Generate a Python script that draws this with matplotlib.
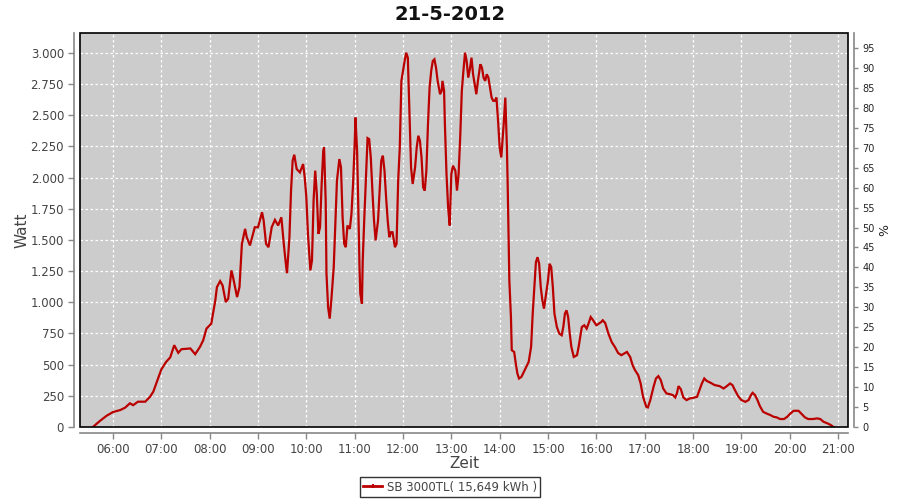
import matplotlib
matplotlib.use("Agg")
import matplotlib.pyplot as plt
from matplotlib.ticker import FixedLocator, FuncFormatter
from matplotlib.patches import Rectangle
from matplotlib.lines import Line2D

title = "21-5-2012"
series_label = "SB 3000TL( 15,649 kWh )"

times = [
    "05:35", "05:44", "05:52", "06:00", "06:09", "06:15", "06:21", "06:25", "06:31", "06:40",
    "06:46", "06:50", "06:56", "07:00", "07:06", "07:11", "07:16", "07:21", "07:25", "07:36",
    "07:42", "07:48", "07:52", "07:56", "08:02", "08:07", "08:09", "08:13", "08:16", "08:20",
    "08:23", "08:27", "08:29", "08:34", "08:37", "08:40", "08:44", "08:46", "08:50", "08:56",
    "09:00", "09:05", "09:07", "09:10", "09:13", "09:17", "09:21", "09:25", "09:29", "09:32",
    "09:35", "09:36", "09:39", "09:41", "09:43", "09:45", "09:48", "09:52", "09:56", "09:58",
    "10:00", "10:02", "10:05", "10:07", "10:09", "10:11", "10:13", "10:15", "10:17", "10:19",
    "10:21", "10:22", "10:24", "10:25", "10:27", "10:29", "10:31", "10:34", "10:36", "10:38",
    "10:41", "10:43", "10:45", "10:47", "10:49", "10:51", "10:54", "10:56", "10:58", "11:00",
    "11:01", "11:03", "11:04", "11:06", "11:07", "11:09", "11:10", "11:12", "11:14", "11:16",
    "11:18", "11:20", "11:22", "11:24", "11:26", "11:29", "11:31", "11:33", "11:35", "11:37",
    "11:39", "11:41", "11:43", "11:45", "11:47", "11:50", "11:52", "11:54", "11:56", "11:58",
    "12:00", "12:02", "12:04", "12:06", "12:08", "12:10", "12:12", "12:15", "12:17", "12:19",
    "12:21", "12:23", "12:25", "12:27", "12:29", "12:31", "12:33", "12:35", "12:37", "12:39",
    "12:41", "12:43", "12:46", "12:48", "12:49", "12:51", "12:52", "12:54", "12:56", "12:58",
    "13:00", "13:02", "13:05", "13:07", "13:09", "13:11", "13:13", "13:15", "13:17", "13:19",
    "13:21", "13:23", "13:25", "13:27", "13:29", "13:31", "13:33", "13:36", "13:38", "13:40",
    "13:42", "13:44", "13:46", "13:48", "13:50", "13:52", "13:54", "13:56", "13:58", "14:00",
    "14:02", "14:05", "14:07", "14:09", "14:10", "14:11", "14:12", "14:14", "14:15", "14:18",
    "14:20", "14:22", "14:24", "14:27", "14:31", "14:36", "14:39", "14:41", "14:43", "14:45",
    "14:47", "14:49", "14:51", "14:53", "14:55", "14:57", "15:00", "15:02", "15:04", "15:06",
    "15:08", "15:11", "15:14", "15:17", "15:19", "15:21", "15:23", "15:25", "15:27", "15:29",
    "15:32", "15:36", "15:38", "15:40", "15:42", "15:45", "15:48", "15:51", "15:53", "15:56",
    "16:00", "16:02", "16:06", "16:08", "16:11", "16:15", "16:19", "16:23", "16:27", "16:31",
    "16:36", "16:38", "16:42", "16:45", "16:48", "16:52", "16:55", "16:58", "17:02", "17:04",
    "17:07", "17:11", "17:14", "17:17", "17:20", "17:23", "17:27", "17:31", "17:35", "17:38",
    "17:40", "17:42", "17:45", "17:48", "17:52", "17:56", "18:01", "18:05", "18:08", "18:11",
    "18:14", "18:17", "18:22", "18:27", "18:33", "18:38", "18:42", "18:46", "18:49", "18:52",
    "18:56", "19:00", "19:05", "19:09", "19:12", "19:14", "19:17", "19:20", "19:23", "19:27",
    "19:31", "19:36", "19:40", "19:44", "19:48", "19:53", "19:57", "20:01", "20:05", "20:11",
    "20:15", "20:19", "20:23", "20:29", "20:34", "20:38", "20:42", "20:47", "20:51", "20:54",
]

watts = [
    0, 50, 90, 120, 136, 155, 190, 175, 203, 203,
    243, 283, 390, 462, 523, 558, 656, 595, 624, 630,
    584, 643, 696, 789, 829, 1016, 1122, 1170, 1136, 1002,
    1029, 1256, 1202, 1042, 1122, 1469, 1589, 1522, 1456, 1602,
    1602, 1722, 1656, 1469, 1442, 1602, 1661, 1616, 1682, 1469,
    1282, 1234, 1522, 1896, 2136, 2184, 2069, 2042, 2109, 2002,
    1842, 1549, 1256, 1336, 1816, 2056, 1869, 1549, 1602, 1949,
    2216, 2242, 1816, 1229, 962, 869, 1016, 1282, 1629, 1976,
    2149, 2082, 1682, 1469, 1442, 1616, 1589, 1709, 1949, 2269,
    2482, 2216, 1922, 1282, 1069, 989, 1336, 1682, 2002, 2317,
    2309, 2162, 1896, 1656, 1496, 1656, 1896, 2136, 2176, 2056,
    1842, 1656, 1522, 1562, 1562, 1442, 1469, 1976, 2242, 2776,
    2856, 2936, 3002, 2962, 2509, 2082, 1949, 2082, 2242, 2336,
    2296, 2162, 1922, 1896, 2056, 2429, 2722, 2856, 2936, 2949,
    2882, 2776, 2669, 2696, 2776, 2696, 2429, 2029, 1762, 1616,
    2029, 2096, 2056, 1896, 2029, 2322, 2696, 2856, 3002, 2936,
    2802, 2869, 2962, 2829, 2749, 2669, 2776, 2909, 2882, 2802,
    2776, 2829, 2802, 2722, 2642, 2616, 2616, 2642, 2456, 2242,
    2162, 2429, 2642, 2242, 1922, 1549, 1176, 882, 616, 602,
    509, 429, 389, 402, 456, 522, 642, 909, 1122, 1322,
    1362, 1309, 1122, 1016, 949, 1042, 1176, 1309, 1282, 1122,
    909, 802, 749, 736, 802, 909, 936, 882, 749, 642,
    562, 576, 642, 722, 802, 816, 789, 842, 882, 856,
    816, 824, 842, 856, 834, 749, 682, 642, 594, 576,
    594, 602, 562, 496, 456, 416, 349, 242, 162, 157,
    216, 322, 389, 408, 376, 309, 269, 264, 256, 237,
    269, 328, 302, 237, 216, 229, 235, 242, 296, 349,
    389, 370, 354, 336, 328, 309, 328, 349, 336, 296,
    248, 216, 202, 216, 256, 274, 256, 216, 168, 122,
    109, 96, 82, 77, 64, 64, 82, 109, 130, 130,
    104, 77, 64, 64, 69, 64, 42, 29, 16, 2,
]

hour_ticks = list(range(6, 22))
watt_ticks = list(range(0, 3001, 250))
pct_ticks = list(range(0, 96, 5))


def to_hours(s):
    h, m = s.split(":")
    return int(h) + int(m) / 60.0


x = [to_hours(t) for t in times]

plt.rcParams['font.family'] = ['DejaVu Sans']

fig = plt.figure(figsize=(9, 5), dpi=100)
fig.patch.set_facecolor("white")
ax = fig.add_axes([80 / 900, 1 - 427 / 500, (848 - 80) / 900, (427 - 33) / 500])
ax.set_facecolor("#CCCCCC")

line_col = "#BB0000"
ax.plot(x, watts, color=line_col, lw=1.6, solid_joinstyle="miter", zorder=3)

ax.set_xlim(5.317, 21.207)
ax.set_ylim(0, 3160)

ax.xaxis.set_major_locator(FixedLocator(hour_ticks))
ax.xaxis.set_major_formatter(FuncFormatter(lambda v, p: f"{int(round(v)):02d}:00"))
ax.yaxis.set_major_locator(FixedLocator(watt_ticks))
ax.yaxis.set_major_formatter(FuncFormatter(lambda v, p: f"{int(v):,}".replace(",", ".")))

ax.grid(True, color="white", linestyle=(0, (2, 2)), lw=0.9)
ax.set_axisbelow(True)

tick_col = "#444444"
axis_col = "#888888"
for s in ["top", "right"]:
    ax.spines[s].set_visible(False)
for s in ["left", "bottom"]:
    ax.spines[s].set_position(("outward", 4))
    ax.spines[s].set_color(axis_col)
    ax.spines[s].set_linewidth(1.2)
ax.tick_params(axis="both", colors=axis_col, labelcolor=tick_col, labelsize=8.5,
               length=4, width=1)

ax.add_patch(Rectangle((0, 0), 1, 1, transform=ax.transAxes, fill=False,
                       edgecolor="black", lw=1.2, zorder=5, clip_on=False))

ax.set_xlabel("Zeit", fontsize=11, color=tick_col, labelpad=0)
ax.set_ylabel("Watt", fontsize=11, color=tick_col, labelpad=1)

ax2 = ax.twinx()
ax2.set_ylim(0, 98.75)
ax2.yaxis.set_major_locator(FixedLocator(pct_ticks))
for s in ["top", "left", "bottom"]:
    ax2.spines[s].set_visible(False)
ax2.spines["right"].set_position(("outward", 4))
ax2.spines["right"].set_color(axis_col)
ax2.spines["right"].set_linewidth(1.2)
ax2.tick_params(axis="y", colors=axis_col, labelcolor="#222222", labelsize=7,
                length=3, width=1)
ax2.set_ylabel("%", fontsize=9, color="#222222", labelpad=2)

fig.suptitle(title, fontsize=14, fontweight="bold", color="#111111", y=1 - 14 / 500,
             va="center")

handle = Line2D([], [], color=line_col, lw=2, marker="|", markersize=3,
                markeredgewidth=1.5)
leg = fig.legend(handles=[handle], labels=[series_label], loc="center",
                 bbox_to_anchor=(0.5, 1 - 487 / 500),
                 frameon=True, fancybox=False, fontsize=8.5, handlelength=1.6,
                 borderpad=0.3, handletextpad=0.4, borderaxespad=0)
leg.get_frame().set_edgecolor("black")
leg.get_frame().set_linewidth(1.0)
for t in leg.get_texts():
    t.set_color(tick_col)

fig.savefig("out.png", dpi=100)
